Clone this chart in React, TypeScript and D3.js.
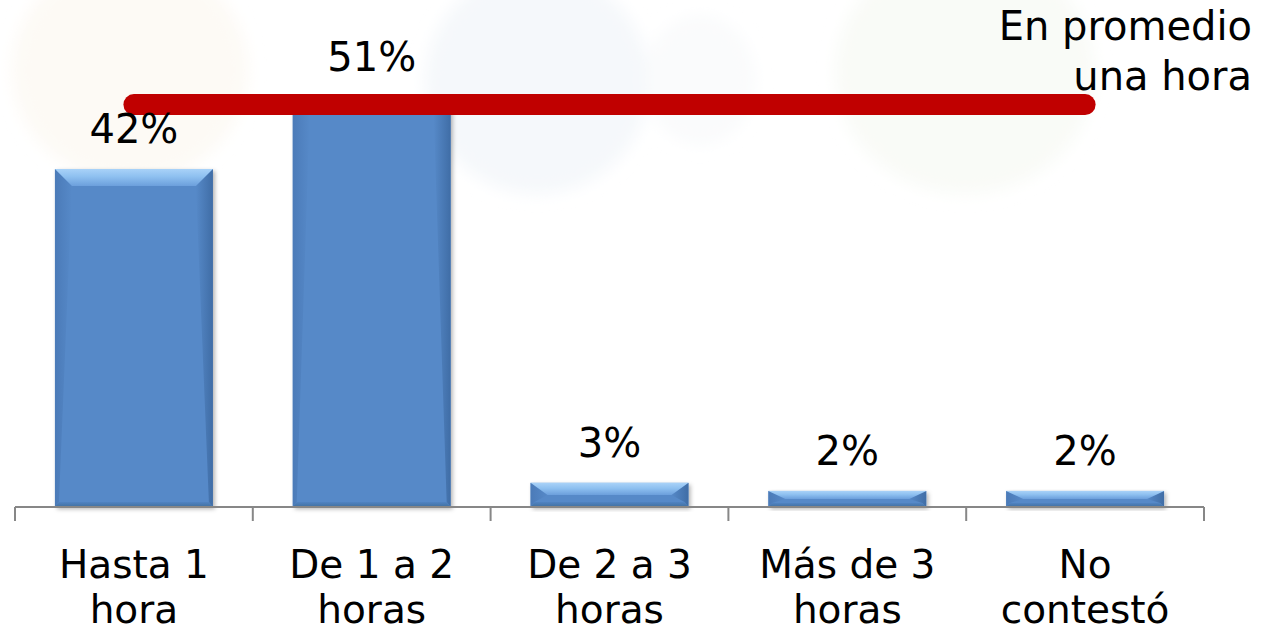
import React from "react";
import * as d3 from "d3";

const categories: string[][] = [
  ["Hasta 1", "hora"],
  ["De 1 a 2", "horas"],
  ["De 2 a 3", "horas"],
  ["Más de 3", "horas"],
  ["No", "contestó"],
];
const values: number[] = [42, 51, 3, 2, 2];
const valueLabels: string[] = ["42%", "51%", "3%", "2%", "2%"];
const averageLine = { from: 0, to: 4, value: 50 };
const noteLines: string[] = ["En promedio", "una hora"];

const W = 1261;
const H = 631;
const FONT = "'DejaVu Sans', Verdana, sans-serif";

export default function App() {
  const x0 = 15;
  const x1 = 1204;
  const baseY = 507;
  const x = d3
    .scaleBand<number>()
    .domain(values.map((_, i) => i))
    .range([x0, x1])
    .paddingInner(0.336)
    .paddingOuter(0.168);
  const y = d3.scaleLinear().domain([0, 63]).range([baseY, 0]);
  const step = x.step();
  const bw = x.bandwidth();

  const ticks = d3.range(values.length + 1).map((i) => x0 + i * step);

  const lineGen = d3.line<[number, number]>();
  const avgPts: [number, number][] = [
    [(x(averageLine.from) as number) + bw / 2, y(averageLine.value)],
    [(x(averageLine.to) as number) + bw / 2, y(averageLine.value)],
  ];

  return (
    <svg
      width={W}
      height={H}
      style={{ position: "absolute", left: 0, top: 0, background: "#fff" }}
    >
      <defs>
        <linearGradient id="topBevel" x1="0" y1="0" x2="0" y2="1">
          <stop offset="0" stopColor="#A9D2F8" />
          <stop offset="0.45" stopColor="#8EC0F0" />
          <stop offset="1" stopColor="#6C9FDC" />
        </linearGradient>
        <linearGradient id="leftBevel" x1="0" y1="0" x2="1" y2="0">
          <stop offset="0" stopColor="#4877B4" />
          <stop offset="1" stopColor="#5689C8" />
        </linearGradient>
        <linearGradient id="rightBevel" x1="0" y1="0" x2="1" y2="0">
          <stop offset="0" stopColor="#5689C8" />
          <stop offset="1" stopColor="#3D6AA2" />
        </linearGradient>
        <linearGradient id="bottomBevel" x1="0" y1="0" x2="0" y2="1">
          <stop offset="0" stopColor="#5083C2" />
          <stop offset="1" stopColor="#41709F" />
        </linearGradient>
        <filter id="shadow" x="-10%" y="-10%" width="130%" height="130%">
          <feDropShadow dx="2" dy="2" stdDeviation="2" floodColor="#000" floodOpacity="0.3" />
        </filter>
        <filter id="blurBg">
          <feGaussianBlur stdDeviation="8" />
        </filter>
      </defs>

      {/* faint watermark */}
      <g filter="url(#blurBg)">
        <ellipse cx={130} cy={70} rx={118} ry={112} fill="#FDFAF5" />
        <ellipse cx={537} cy={82} rx={112} ry={112} fill="#F5F8FB" />
        <ellipse cx={700} cy={80} rx={55} ry={65} fill="#FAFBFC" />
        <ellipse cx={965} cy={72} rx={130} ry={122} fill="#F9FBF7" />
      </g>

      {/* bars */}
      {values.map((v, i) => {
        const bx = x(i) as number;
        const by = y(v);
        const bh = baseY - by;
        const b = Math.min(17, bh / 2);
        const bs = Math.min(17, bw / 2);
        const bb = Math.min(5, bh / 4);
        const topPts = `${bx},${by} ${bx + bw},${by} ${bx + bw - bs},${by + b} ${bx + bs},${by + b}`;
        const leftPts = `${bx},${by} ${bx + bs},${by + b} ${bx + 4},${baseY - bb} ${bx},${baseY}`;
        const rightPts = `${bx + bw},${by} ${bx + bw},${baseY} ${bx + bw - 4},${baseY - bb} ${bx + bw - bs},${by + b}`;
        const bottomPts = `${bx},${baseY} ${bx + 4},${baseY - bb} ${bx + bw - 4},${baseY - bb} ${bx + bw},${baseY}`;
        return (
          <g key={i}>
            <rect x={bx} y={by} width={bw} height={bh} fill="#5689C8" filter="url(#shadow)" />
            <polygon points={leftPts} fill="url(#leftBevel)" opacity={0.8} />
            <polygon points={rightPts} fill="url(#rightBevel)" opacity={0.9} />
            <polygon points={bottomPts} fill="url(#bottomBevel)" />
            <polygon points={topPts} fill="url(#topBevel)" />
          </g>
        );
      })}

      {/* axis */}
      <line x1={x0} x2={x1} y1={baseY} y2={baseY} stroke="#878787" strokeWidth={2} />
      {ticks.map((t, i) => (
        <line key={i} x1={t} x2={t} y1={baseY} y2={baseY + 14} stroke="#878787" strokeWidth={2} />
      ))}

      {/* average line */}
      <path
        d={lineGen(avgPts) || ""}
        stroke="#C00000"
        strokeWidth={21}
        strokeLinecap="round"
        fill="none"
      />

      {/* value labels */}
      {values.map((v, i) => (
        <text
          key={i}
          x={(x(i) as number) + bw / 2}
          y={y(v) - 26}
          textAnchor="middle"
          fontFamily={FONT}
          fontSize={40}
          fill="#000"
        >
          {valueLabels[i]}
        </text>
      ))}

      {/* category labels */}
      {categories.map((lines, i) => (
        <text
          key={i}
          x={(x(i) as number) + bw / 2}
          y={578}
          textAnchor="middle"
          fontFamily={FONT}
          fontSize={39}
          fill="#000"
        >
          {lines.map((l, j) => (
            <tspan key={j} x={(x(i) as number) + bw / 2} dy={j === 0 ? 0 : 45}>
              {l}
            </tspan>
          ))}
        </text>
      ))}

      {/* note */}
      <text x={1252} y={40} textAnchor="end" fontFamily={FONT} fontSize={40} fill="#000">
        {noteLines.map((l, j) => (
          <tspan key={j} x={1252} dy={j === 0 ? 0 : 50}>
            {l}
          </tspan>
        ))}
      </text>
    </svg>
  );
}
